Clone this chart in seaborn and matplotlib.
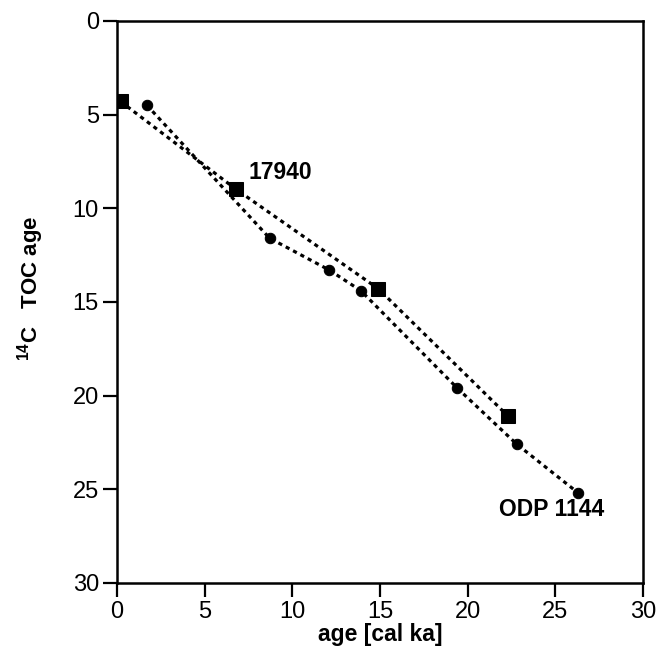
import matplotlib
matplotlib.use("Agg")
import matplotlib.pyplot as plt
import pandas as pd
import seaborn as sns

# core 17940 (squares)
sq_cal_age = [0.2, 6.8, 14.9, 22.3]
sq_toc_age = [4.3, 9.0, 14.3, 21.1]

# ODP 1144 (circles)
ci_cal_age = [1.7, 8.7, 12.1, 13.9, 19.4, 22.8, 26.3]
ci_toc_age = [4.5, 11.6, 13.3, 14.4, 19.6, 22.6, 25.2]

ticks = [0, 5, 10, 15, 20, 25, 30]

sq = pd.DataFrame({"cal": sq_cal_age, "toc": sq_toc_age})
ci = pd.DataFrame({"cal": ci_cal_age, "toc": ci_toc_age})

sns.set_theme(style="ticks")
plt.rcParams["font.family"] = ["Liberation Sans", "DejaVu Sans"]
plt.rcParams["text.color"] = "black"
plt.rcParams["axes.labelcolor"] = "black"
plt.rcParams["mathtext.fontset"] = "custom"
plt.rcParams["mathtext.bf"] = "Liberation Sans:bold"

fig = plt.figure(figsize=(6.63, 6.52), dpi=100)
ax = fig.add_axes([0.1765, 0.106, 0.7935, 0.862])

dots = (0, (1.3, 1.3))
sns.lineplot(data=sq, x="cal", y="toc", sort=False, ax=ax, color="black",
             linestyle=dots, linewidth=2.3, marker="s", markersize=9.5,
             markeredgecolor="black")
sns.lineplot(data=ci, x="cal", y="toc", sort=False, ax=ax, color="black",
             linestyle=dots, linewidth=2.3, marker="o", markersize=7.5,
             markeredgecolor="black")

ax.set_xlim(0, 30)
ax.set_ylim(30, 0)
ax.set_xticks(ticks)
ax.set_yticks(ticks)
ax.tick_params(axis="both", direction="out", length=10, width=1.6, labelsize=17,
               color="black", labelcolor="black", pad=3)
for s in ax.spines.values():
    s.set_linewidth(1.8)
    s.set_color("black")

ax.set_xlabel("age [cal ka]", fontsize=16.5, fontweight="bold", va="center")
ax.xaxis.set_label_coords(0.5, -0.091)
ax.set_ylabel(r"$^{\mathbf{14}}$C   TOC age", fontsize=16, fontweight="bold",
              va="center", ha="center")
ax.yaxis.set_label_coords(-0.165, 0.525)

ax.text(7.5, 8.1, "17940", fontsize=16.5, fontweight="bold", va="center", ha="left")
ax.text(21.8, 26.1, "ODP 1144", fontsize=16.5, fontweight="bold", va="center", ha="left")

fig.savefig("out.png", dpi=100)
